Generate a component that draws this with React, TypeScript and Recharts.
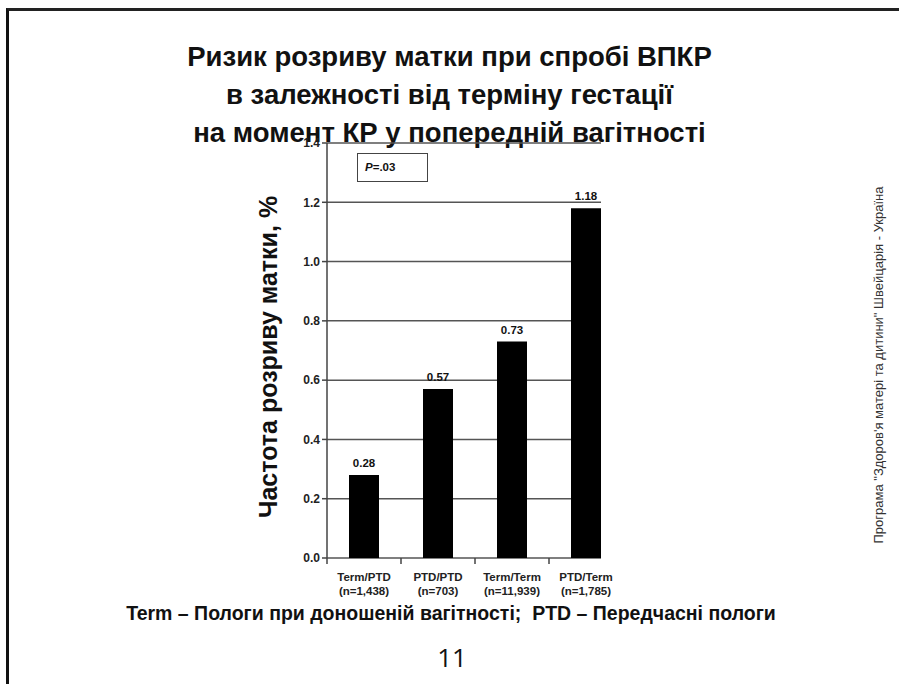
import { BarChart, Bar, XAxis, YAxis, CartesianGrid, LabelList } from "recharts";

const categories = ["Term/PTD", "PTD/PTD", "Term/Term", "PTD/Term"];
const sampleSizes = ["(n=1,438)", "(n=703)", "(n=11,939)", "(n=1,785)"];
const ruptureRates = [0.28, 0.57, 0.73, 1.18];
const yTicks = [0, 0.2, 0.4, 0.6, 0.8, 1.0, 1.2, 1.4];

const titleLines = [
  "Ризик розриву матки при спробі ВПКР",
  "в залежності від терміну гестації",
  "на момент КР у попередній вагітності",
];

const data = categories.map((c, i) => ({ name: c, n: sampleSizes[i], rate: ruptureRates[i] }));

const FONT = "'Liberation Sans', Arial, sans-serif";
const BAND = 74;
const GRID_CUT = 22; // plot frame stops at the right edge of the last bar

function CategoryTick(props: any) {
  const { x, y, payload, index } = props;
  return (
    <g>
      {index === 0 && <line x1={x - BAND / 2} y1={y - 8} x2={x - BAND / 2} y2={y - 2} stroke="#444" strokeWidth={1.5} />}
      {index < categories.length - 1 && (
        <line x1={x + BAND / 2} y1={y - 8} x2={x + BAND / 2} y2={y - 2} stroke="#444" strokeWidth={1.5} />
      )}
      <text x={x} y={y + 15} textAnchor="middle" fontFamily={FONT} fontWeight="bold" fontSize={11.5} fill="#222">
        {payload.value}
      </text>
      <text x={x} y={y + 29} textAnchor="middle" fontFamily={FONT} fontWeight="bold" fontSize={11.5} fill="#222">
        {sampleSizes[index]}
      </text>
    </g>
  );
}

function GridLine(props: any) {
  const { x1, x2, y1, y2 } = props;
  return <line x1={x1} x2={x2 - GRID_CUT} y1={y1} y2={y2} stroke="#555" strokeWidth={1.5} />;
}

export default function App() {
  return (
    <div style={{ position: "absolute", left: 0, top: 0, width: 899, height: 684, background: "#fff", overflow: "hidden", fontFamily: FONT }}>
      {/* slide border */}
      <div style={{ position: "absolute", left: 6, top: 8, width: 893, height: 676, borderLeft: "3px solid #111", borderTop: "3px solid #222" }} />

      {titleLines.map((t, i) => (
        <div
          key={i}
          style={{ position: "absolute", left: 0, width: 899, top: 39 + i * 38, textAlign: "center", fontSize: 27.5, fontWeight: "bold", color: "#111", lineHeight: "36px" }}
        >
          {t}
        </div>
      ))}

      <BarChart
        style={{ position: "absolute", left: 0, top: 0 }}
        width={899}
        height={684}
        data={data}
        margin={{ top: 143, right: 276, left: 250, bottom: 86 }}
        barSize={30}
      >
        <CartesianGrid vertical={false} horizontal={<GridLine />} />
        <XAxis
          dataKey="name"
          axisLine={false}
          tickLine={false}
          tick={<CategoryTick />}
          interval={0}
          height={40}
        />
        <YAxis
          width={77}
          domain={[0, 1.4]}
          ticks={yTicks}
          interval={0}
          tickFormatter={(v: number) => v.toFixed(1)}
          axisLine={{ stroke: "#444", strokeWidth: 1.5 }}
          tickLine={{ stroke: "#444", strokeWidth: 1.5 }}
          tickSize={5}
          tick={{ fontFamily: FONT, fontWeight: "bold", fontSize: 12, fill: "#222" }}
        />
        <Bar dataKey="rate" fill="#000" isAnimationActive={false}>
          <LabelList
            dataKey="rate"
            position="top"
            offset={8}
            formatter={(v: number) => v.toFixed(2)}
            style={{ fontFamily: FONT, fontWeight: "bold", fontSize: 11.5, fill: "#111" }}
          />
        </Bar>
      </BarChart>

      {/* P value box */}
      <div
        style={{ position: "absolute", left: 357, top: 153, width: 71, height: 29, border: "1.5px solid #444", fontSize: 11.5, fontWeight: "bold", color: "#111", lineHeight: "27px", paddingLeft: 7, boxSizing: "border-box" }}
      >
        <i>P</i>=.03
      </div>

      {/* y axis title */}
      <div
        style={{ position: "absolute", left: 268, top: 357, transform: "translate(-50%, -50%) rotate(-90deg)", whiteSpace: "nowrap", fontSize: 25, fontWeight: "bold", color: "#111" }}
      >
        Частота розриву матки, %
      </div>

      {/* footnote */}
      <div style={{ position: "absolute", left: 0, width: 902, top: 602, textAlign: "center", fontSize: 19.5, fontWeight: "bold", color: "#111" }}>
        Term – Пологи при доношеній вагітності;&nbsp; PTD – Передчасні пологи
      </div>

      <div style={{ position: "absolute", left: 0, width: 904, top: 639, textAlign: "center", fontSize: 26, color: "#111", fontFamily: "'Open Sans', sans-serif" }}>
        11
      </div>

      {/* side caption */}
      <div
        style={{ position: "absolute", left: 878, top: 365, transform: "translate(-50%, -50%) rotate(-90deg)", whiteSpace: "nowrap", fontSize: 13, color: "#333" }}
      >
        Програма "Здоров'я матері та дитини" Швейцарія - Україна
      </div>
    </div>
  );
}
